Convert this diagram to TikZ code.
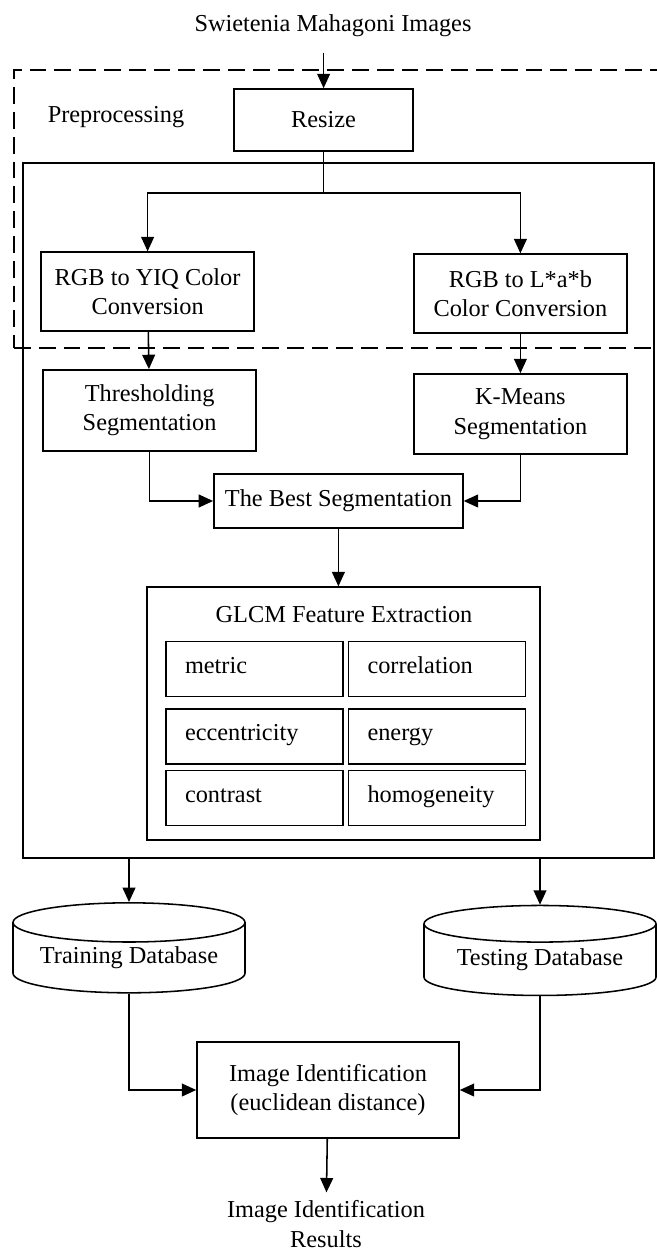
\documentclass[tikz,border=0pt]{standalone}
\usepackage{fontspec}
\setmainfont{Liberation Serif}
\usetikzlibrary{arrows.meta,shapes.geometric}

\begin{document}
\begin{tikzpicture}[
    font=\fontsize{17.3}{21}\selectfont,
    line width=1.1pt,
    >={Triangle[length=0.36cm,width=0.32cm]},
    box/.style={draw, align=center, inner sep=0pt},
    cell/.style={draw, text width=3.475cm, align=left, inner xsep=0.475cm, inner ysep=0pt, minimum height=1.38cm, text height=1.7ex, text depth=0.3ex},
    db/.style={draw, cylinder, shape border rotate=90, aspect=0.22, inner sep=0pt, minimum width=5.8cm, minimum height=2.25cm, align=center},
    dashedframe/.style={draw, dash pattern=on 0.42cm off 0.2cm},
]
    \useasboundingbox (0,0) rectangle (16.4,-31.3);

    % frames
    \node[dashedframe, minimum width=16.15cm, minimum height=6.95cm] (prep) at (8.425,-5.225) {};
    \node[draw, minimum width=15.775cm, minimum height=17.375cm] (core) at (8.4625,-12.7625) {};
    \node (preplabel) at (2.9,-2.925) {Preprocessing};

    \node (title) at (8.325,-0.65) {Swietenia Mahagoni Images};
    \node[box, minimum width=4.475cm, minimum height=1.55cm] (resize) at (8.09,-3.0) {Resize};

    \node[box, minimum width=5.325cm, minimum height=1.975cm] (yiq) at (3.69,-7.29) {RGB to YIQ Color\\Conversion};
    \node[box, minimum width=5.325cm, minimum height=1.975cm] (lab) at (13.01,-7.34) {RGB to L*a*b\\Color Conversion};
    \node[box, minimum width=5.325cm, minimum height=2.025cm] (thresh) at (3.74,-10.26) {Thresholding\\Segmentation};
    \node[box, minimum width=5.325cm, minimum height=2cm] (kmeans) at (13.01,-10.35) {K-Means\\Segmentation};
    \node[box, minimum width=6.225cm, minimum height=1.35cm] (best) at (8.46,-12.525) {The Best Segmentation};

    % GLCM block
    \node[draw, minimum width=9.825cm, minimum height=6.325cm] (glcm) at (8.59,-17.84) {};
    \node (glcmtitle) at (8.6,-15.375) {GLCM Feature Extraction};
    \node[cell] (metric) at (6.3625,-16.725) {metric};
    \node[cell] (corr) at (10.925,-16.725) {correlation};
    \node[cell] (ecc) at (6.3625,-18.41) {eccentricity};
    \node[cell] (energy) at (10.925,-18.41) {energy};
    \node[cell] (contrast) at (6.3625,-19.95) {contrast};
    \node[cell] (homog) at (10.925,-19.95) {homogeneity};

    \node[db] (train) at (3.225,-23.95) {Training Database};
    \node[db] (test) at (13.5,-24.0) {Testing Database};
    \node[box, minimum width=6.55cm, minimum height=2.4cm] (ident) at (8.2,-27.25) {Image Identification\\(euclidean distance)};
    \node[align=center, inner sep=1pt] (results) at (8.15,-30.6) {Image Identification\\Results};

    % connectors
    \coordinate (split) at (8.09,-4.825);
    \draw[->, shorten <=0.25cm] (resize.north |- title.south) -- (resize);
    \draw (resize) -- (split);
    \draw[->] (split) -| (yiq);
    \draw[->] (split) -| (lab);
    \draw[->] (yiq) -- (thresh);
    \draw[->] (lab) -- (kmeans);
    \draw[->] (thresh.south) |- (best.west);
    \draw[->] (kmeans.south) |- (best.east);
    \draw[->] (best.south) -- (best.south |- glcm.north);
    \draw[->] (core.south -| train.north) -- (train.north);
    \draw[->] (core.south -| test.north) -- (test.north);
    \draw[->] (train.south) |- (ident.west);
    \draw[->] (test.south) |- (ident.east);
    \draw[->, shorten >=0.15cm] (ident) -- (results);
\end{tikzpicture}
\end{document}
